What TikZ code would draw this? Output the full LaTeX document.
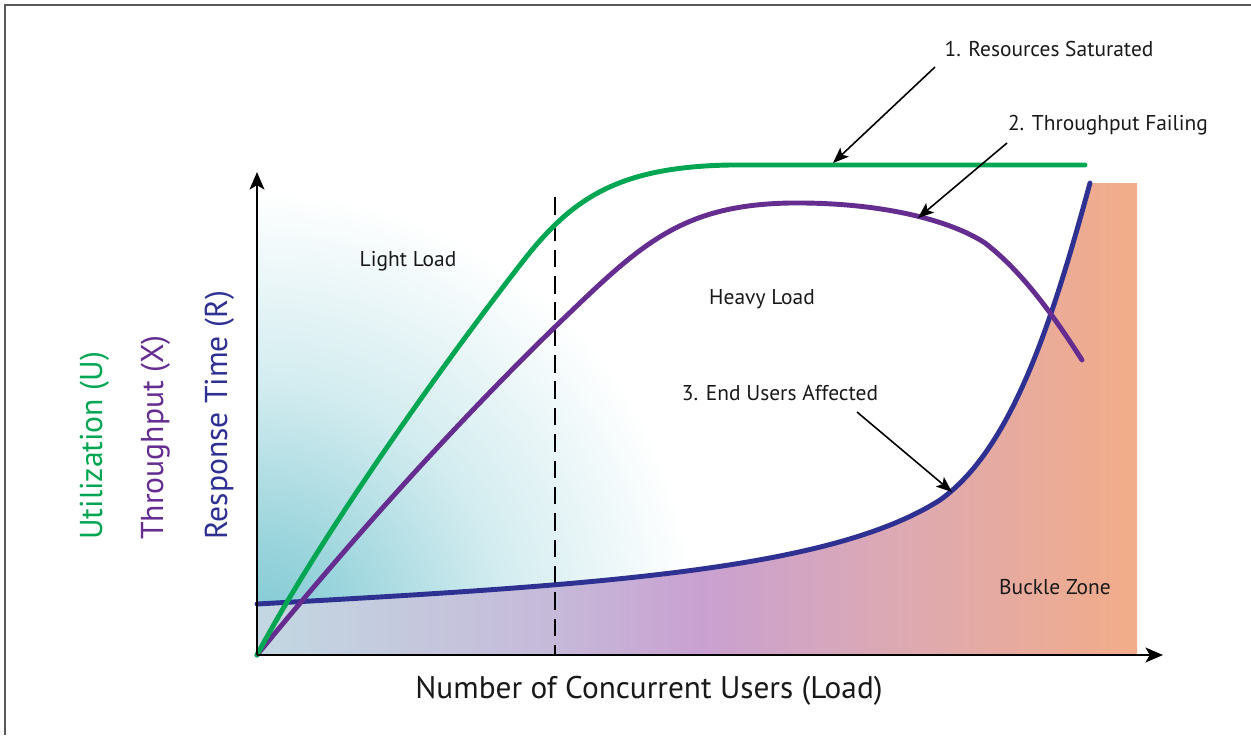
\documentclass[tikz,border=0pt]{standalone}
\usepackage{fontspec}
\setmainfont{PT Sans}
\usetikzlibrary{arrows.meta}
\definecolor{ugreen}{HTML}{00A651}
\definecolor{upurple}{HTML}{662D91}
\definecolor{ublue}{HTML}{2E3192}
\definecolor{cteal}{HTML}{80C9D3}
\definecolor{cA}{HTML}{C3D8E2}
\definecolor{cB}{HTML}{C6B9D9}
\definecolor{cC}{HTML}{C9A1D1}
\definecolor{cD}{HTML}{DDA9B2}
\definecolor{cE}{HTML}{F2AC88}
\pgfdeclareradialshading{tealfade}{\pgfpoint{0bp}{0bp}}{color(0bp)=(cteal); color(5bp)=(cteal!80!white); color(14bp)=(cteal!35!white); color(25bp)=(white); color(50bp)=(white)}
\tikzset{
  curve/.style={line width=2.8pt, line cap=round, line join=round},
  axisline/.style={line width=1.1pt, -{Stealth[length=10pt,width=8.5pt,inset=2.5pt]}},
  leader/.style={line width=0.9pt, -{Stealth[length=9pt,width=7pt,inset=2pt]}},
  lbl/.style={font=\fontsize{12.2}{14}\selectfont, text=black!90, inner sep=0pt},
  ylbl/.style={font=\fontsize{18}{20}\selectfont, rotate=90, anchor=base west, inner sep=0pt},
}
\begin{document}
\begin{tikzpicture}[x=0.02cm, y=-0.02cm]
\useasboundingbox (0,0) rectangle (1251,735);
% frame
\draw[line width=1.2pt, black!65] (5,735) -- (5,5) -- (1251,5);

\def\bluepath{(257,604) .. controls (600,585) and (830,570) .. (940,500) .. controls (1010,450) and (1050,330) .. (1090,183)}

% teal region above blue curve
\begin{scope}
  \clip (257,178) -- \bluepath -- cycle;
  \shade[shading=tealfade] (257,630) circle (440);
\end{scope}

% buckle gradient under blue curve
\begin{scope}
  \clip (257,655) -- \bluepath -- (1137,183) -- (1137,655) -- cycle;
  \shade[left color=cA, right color=cB] (256,180) rectangle (556,656);
  \shade[left color=cB, right color=cC] (555,180) rectangle (701,656);
  \shade[left color=cC, right color=cD] (700,180) rectangle (901,656);
  \shade[left color=cD, right color=cE] (900,180) rectangle (1138,656);
\end{scope}

% dashed separator
\coordinate (dtop) at (555,197);
\coordinate (dbot) at (555,655);
\draw[line width=1.5pt, dash pattern=on 10pt off 5pt] (dtop) -- (dbot);

% curves
\draw[curve, ublue] \bluepath;
\draw[curve, upurple] (257,655) .. controls (380,505) and (480,400) .. (557,325)
  .. controls (640,245) and (680,205) .. (790,203)
  .. controls (880,202) and (950,220) .. (985,243)
  .. controls (1020,270) and (1050,310) .. (1082,360);
\draw[curve, ugreen] (257,655) .. controls (320,537) and (440,368) .. (520,265)
  .. controls (570,200) and (615,167) .. (730,165) -- (1085,165);

% axes
\coordinate (O) at (257,655);
\coordinate (ytip) at (257,172);
\coordinate (xtip) at (1163,655);
\draw[axisline] (O) -- (ytip);
\draw[axisline] (O) -- (xtip);

% labels
\node[lbl] (light) at (408,261) {Light Load};
\node[lbl] (heavy) at (762,299) {Heavy Load};
\node[lbl] (users) at (780,393) {3. End Users Affected};
\node[lbl] (buckle) at (1055,587) {Buckle Zone};
\node[lbl] (sat) at (1049,49) {1. Resources Saturated};
\node[lbl] (fail) at (1108,125) {2. Throughput Failing};
\node[font=\fontsize{17.8}{20}\selectfont, text=black!90, inner sep=0pt] (xlabel) at (649,691) {Number of Concurrent Users (Load)};

\node[ylbl, text=ugreen] (ulbl) at (102,540) {Utilization (U)};
\node[ylbl, text=upurple] (tlbl) at (163,540) {Throughput (X)};
\node[ylbl, text=ublue] (rlbl) at (227,540) {Response Time (R)};

% leaders
\coordinate (s1) at (935,67);  \coordinate (t1) at (833,163);
\coordinate (s2) at (1007,143); \coordinate (t2) at (918,218);
\coordinate (s3) at (857,412); \coordinate (t3) at (952,492);
\draw[leader] (s1) -- (t1);
\draw[leader] (s2) -- (t2);
\draw[leader] (s3) -- (t3);
\end{tikzpicture}
\end{document}
